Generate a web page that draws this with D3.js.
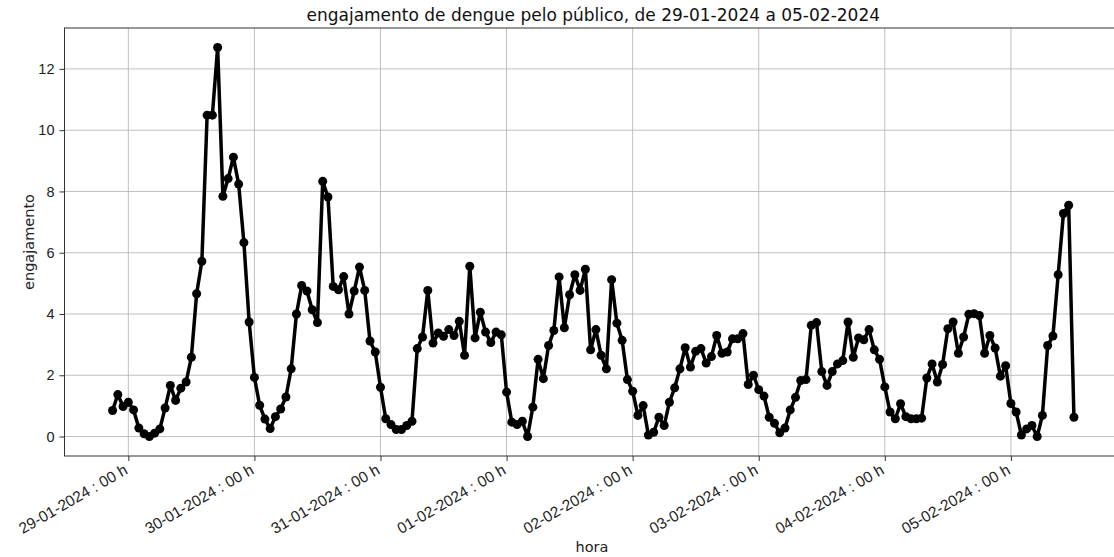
<!DOCTYPE html>
<html>
<head>
<meta charset="utf-8">
<script src="https://cdn.jsdelivr.net/npm/d3@7"></script>
<style>
  body { margin: 0; background: #fff; }
  svg { display: block; font-family: "DejaVu Sans", sans-serif; }
</style>
</head>
<body>
<svg id="chart" width="1114" height="557"></svg>
<script>
// first reading is 28-01-2024 21:00, one value per hour
const startTime = '2024-01-28 21:00'
const engajamento = [
  0.85, 1.37, 0.98, 1.12, 0.87, 0.28, 0.09, 0.0, 0.11, 0.25, 0.93, 1.67, 1.18, 1.58, 1.78, 2.59,
  4.66, 5.72, 10.49, 10.49, 12.7, 7.84, 8.42, 9.12, 8.24, 6.33, 3.74, 1.93, 1.02, 0.57, 0.26, 0.65,
  0.9, 1.29, 2.21, 4.0, 4.93, 4.75, 4.14, 3.72, 8.33, 7.82, 4.9, 4.79, 5.22, 4.0, 4.75, 5.53,
  4.77, 3.12, 2.76, 1.61, 0.58, 0.39, 0.23, 0.23, 0.36, 0.5, 2.87, 3.25, 4.77, 3.05, 3.38, 3.27,
  3.49, 3.3, 3.76, 2.65, 5.56, 3.22, 4.06, 3.41, 3.07, 3.41, 3.32, 1.45, 0.47, 0.39, 0.5, 0.0,
  0.96, 2.52, 1.89, 2.97, 3.46, 5.21, 3.55, 4.63, 5.28, 4.77, 5.46, 2.83, 3.49, 2.65, 2.21, 5.12,
  3.7, 3.14, 1.86, 1.48, 0.69, 1.01, 0.05, 0.14, 0.63, 0.36, 1.12, 1.59, 2.21, 2.9, 2.27, 2.78,
  2.87, 2.4, 2.61, 3.3, 2.72, 2.76, 3.19, 3.19, 3.36, 1.7, 2.0, 1.53, 1.32, 0.63, 0.43, 0.12,
  0.28, 0.87, 1.28, 1.83, 1.86, 3.63, 3.72, 2.12, 1.67, 2.12, 2.37, 2.48, 3.74, 2.59, 3.22, 3.16,
  3.49, 2.83, 2.52, 1.62, 0.8, 0.58, 1.07, 0.65, 0.58, 0.58, 0.6, 1.91, 2.37, 1.78, 2.35, 3.52,
  3.74, 2.72, 3.25, 3.99, 4.01, 3.95, 2.72, 3.3, 2.89, 1.97, 2.31, 1.08, 0.8, 0.05, 0.25, 0.36,
  0.0, 0.69, 2.97, 3.28, 5.28, 7.28, 7.55, 0.63
]
const tickDays = ['2024-01-29', '2024-01-30', '2024-01-31', '2024-02-01', '2024-02-02', '2024-02-03', '2024-02-04', '2024-02-05']
const yTicks = [0, 2, 4, 6, 8, 10, 12]

const parse = d3.timeParse('%Y-%m-%d %H:%M')
const t0 = parse(startTime)
const data = engajamento.map((v, i) => ({hora: d3.timeHour.offset(t0, i), valor: v}))

const margin = {top: 28, left: 64.5}
const plotW = 1057.5
const plotH = 428

const svg = d3.select('#chart')

// matplotlib style 5% padding on both axes
const xExt = d3.extent(data, d => d.hora)
const xPad = (xExt[1] - xExt[0]) * 0.05
const x = d3.scaleTime()
  .domain([new Date(+xExt[0] - xPad), new Date(+xExt[1] + xPad)])
  .range([margin.left, margin.left + plotW])

const yMax = d3.max(data, d => d.valor)
const yMin = d3.min(data, d => d.valor)
const yPad = (yMax - yMin) * 0.05
const y = d3.scaleLinear()
  .domain([yMin - yPad, yMax + yPad])
  .range([margin.top + plotH, margin.top])

const tickDates = tickDays.map(d => parse(d + ' 00:00'))
const fmt = d3.timeFormat('%d-%m-%Y : %H h')

// grid
svg.append('g')
  .selectAll('line')
  .data(tickDates)
  .join('line')
  .attr('x1', d => x(d)).attr('x2', d => x(d))
  .attr('y1', margin.top).attr('y2', margin.top + plotH)
  .attr('stroke', '#b0b0b0').attr('stroke-width', 0.8)

svg.append('g')
  .selectAll('line')
  .data(yTicks)
  .join('line')
  .attr('x1', margin.left).attr('x2', margin.left + plotW)
  .attr('y1', d => y(d)).attr('y2', d => y(d))
  .attr('stroke', '#b0b0b0').attr('stroke-width', 0.8)

// axes
const xAxis = d3.axisBottom(x).tickValues(tickDates).tickFormat(fmt).tickSize(5).tickPadding(4)
const gx = svg.append('g')
  .attr('transform', `translate(0,${margin.top + plotH})`)
  .call(xAxis)
gx.select('.domain').remove()
gx.selectAll('line').attr('stroke', '#333')
gx.selectAll('text')
  .attr('font-size', 15.5)
  .attr('fill', '#222')
  .attr('dy', null)
  .attr('y', 0)
  .attr('text-anchor', 'end')
  .attr('transform', 'translate(0,17) rotate(-30)')

const yAxis = d3.axisLeft(y).tickValues(yTicks).tickSize(5).tickPadding(5)
const gy = svg.append('g')
  .attr('transform', `translate(${margin.left},0)`)
  .call(yAxis)
gy.select('.domain').remove()
gy.selectAll('line').attr('stroke', '#333')
gy.selectAll('text').attr('font-size', 14.5).attr('fill', '#222')

// frame
svg.append('rect')
  .attr('x', margin.left).attr('y', margin.top)
  .attr('width', plotW).attr('height', plotH)
  .attr('fill', 'none').attr('stroke', '#333').attr('stroke-width', 1)

// line + markers
const line = d3.line().x(d => x(d.hora)).y(d => y(d.valor))
svg.append('path')
  .datum(data)
  .attr('d', line)
  .attr('fill', 'none')
  .attr('stroke', '#000')
  .attr('stroke-width', 3.5)
  .attr('stroke-linejoin', 'round')

svg.append('g')
  .selectAll('circle')
  .data(data)
  .join('circle')
  .attr('cx', d => x(d.hora))
  .attr('cy', d => y(d.valor))
  .attr('r', 4.5)
  .attr('fill', '#000')

// labels
svg.append('text')
  .attr('x', margin.left + (1114 - margin.left) / 2 + 4)
  .attr('y', 21)
  .attr('text-anchor', 'middle')
  .attr('font-size', 17)
  .attr('fill', '#111')
  .text('engajamento de dengue pelo público, de 29-01-2024 a 05-02-2024')

svg.append('text')
  .attr('transform', `translate(34,${margin.top + plotH / 2}) rotate(-90)`)
  .attr('text-anchor', 'middle')
  .attr('font-size', 14.5)
  .attr('fill', '#222')
  .text('engajamento')

svg.append('text')
  .attr('x', 592)
  .attr('y', 552)
  .attr('text-anchor', 'middle')
  .attr('font-size', 14.5)
  .attr('fill', '#222')
  .text('hora')
</script>
</body>
</html>
